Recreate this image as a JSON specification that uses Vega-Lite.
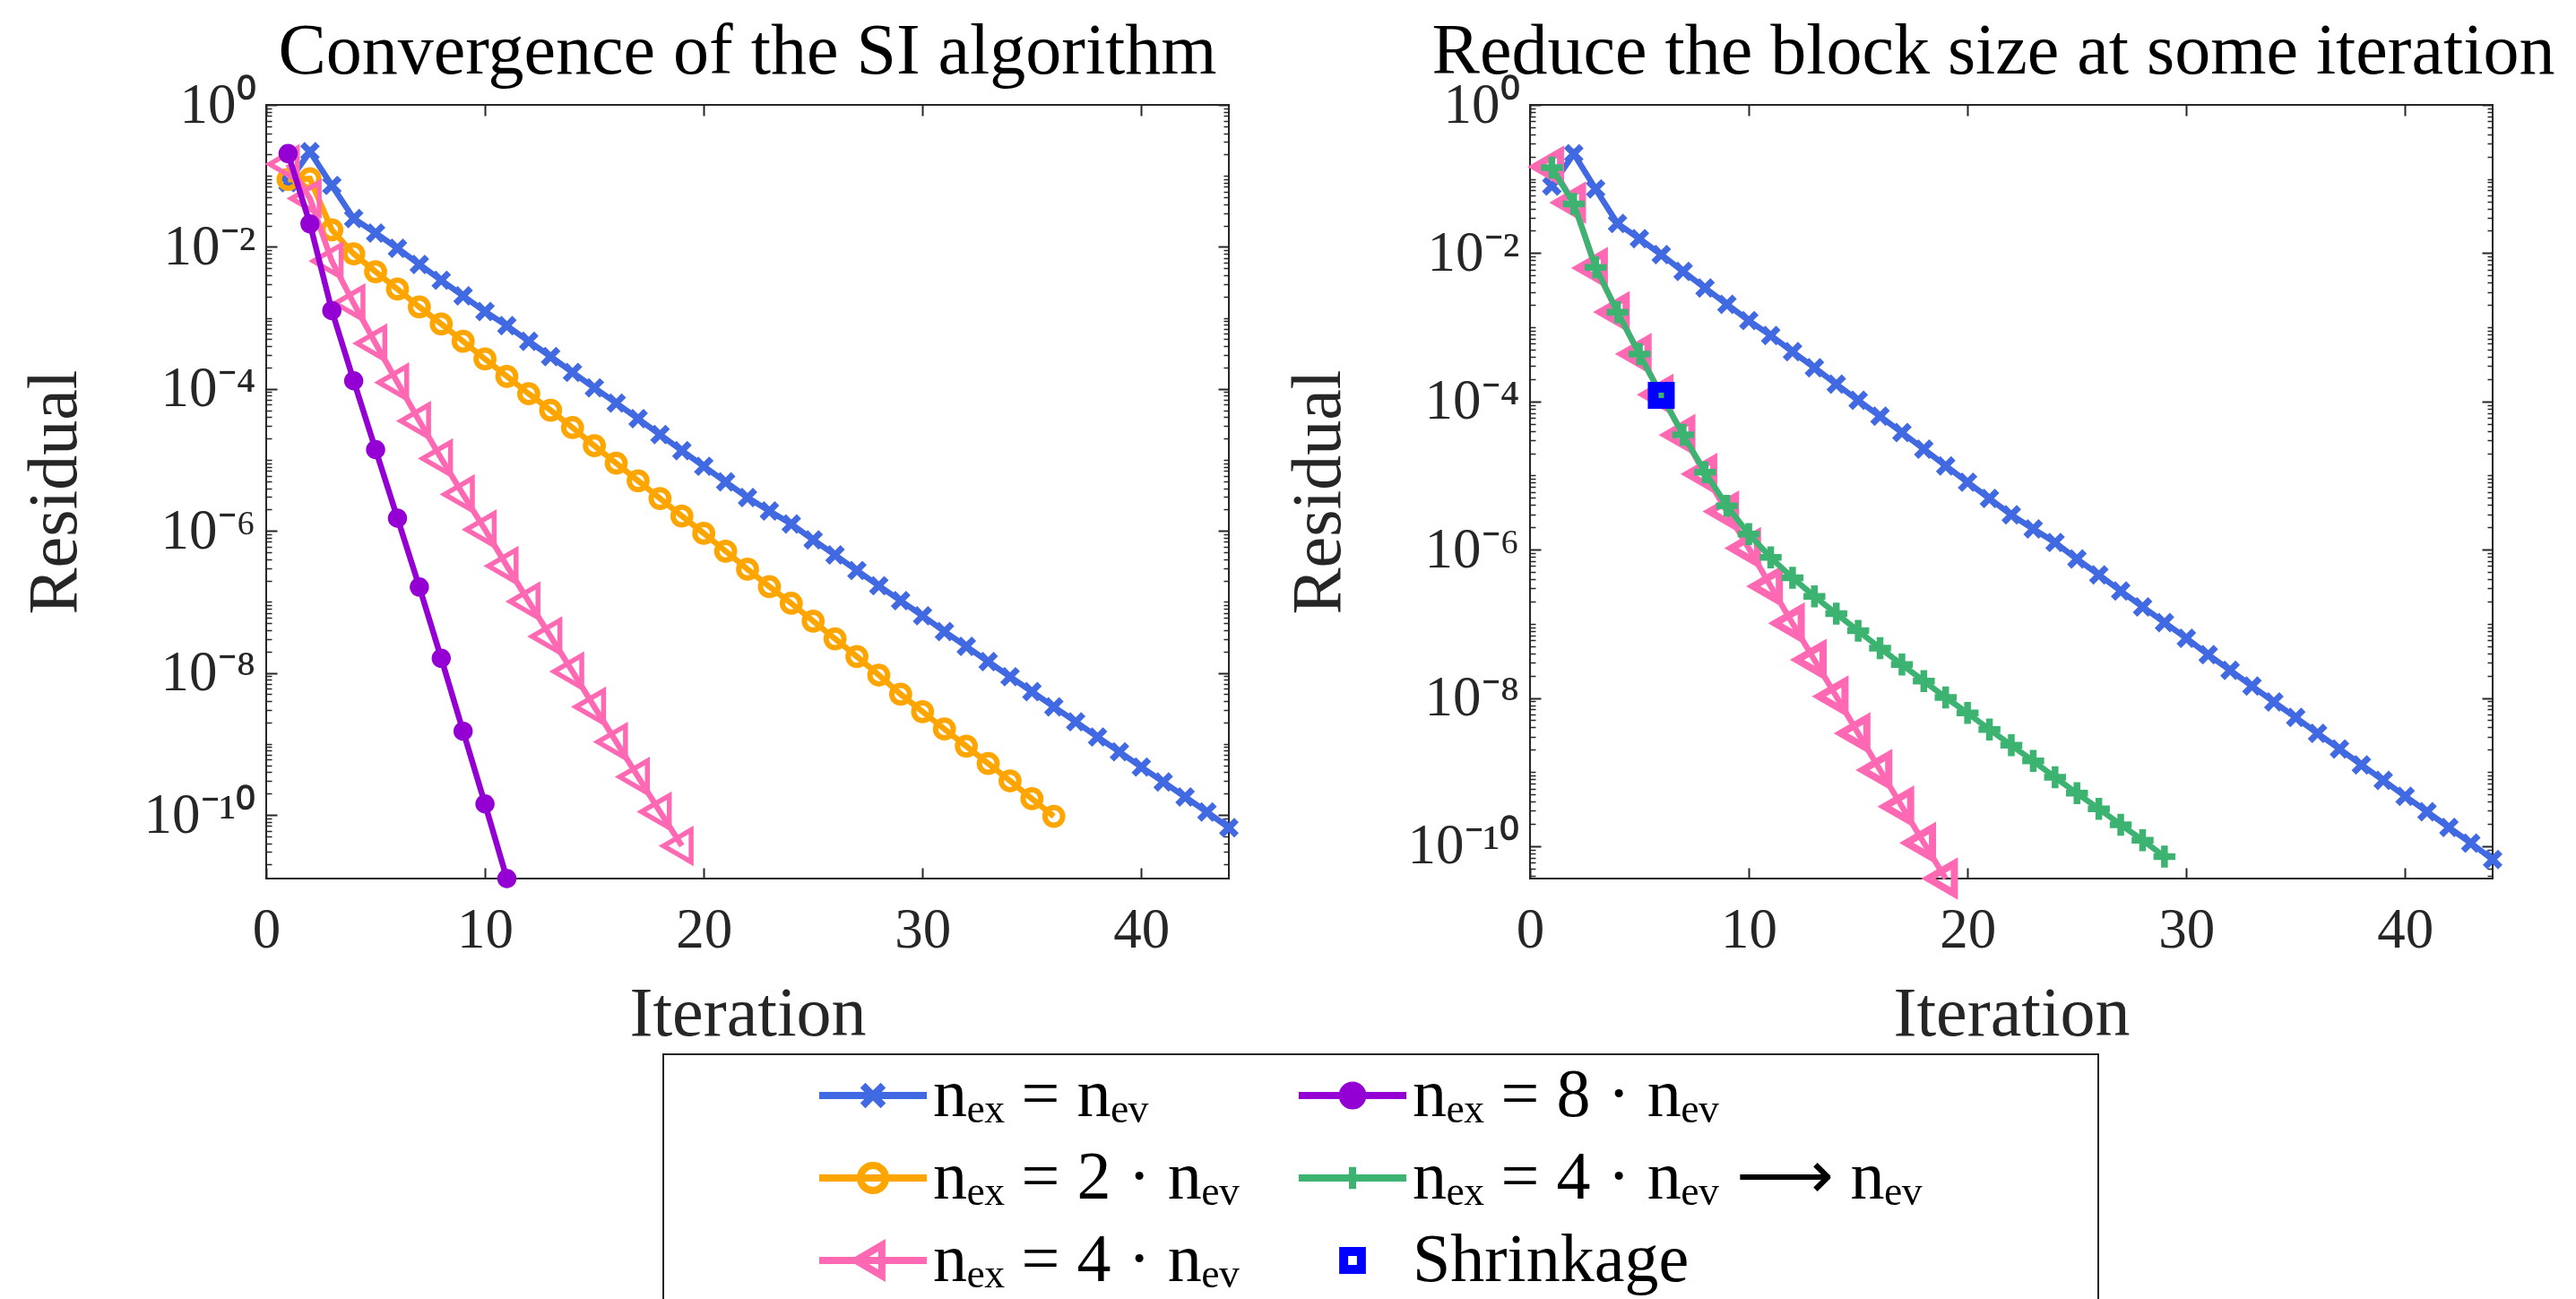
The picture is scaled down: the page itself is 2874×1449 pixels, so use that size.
{
"$schema":"https://vega.github.io/schema/vega-lite/v6.json",
"padding":{"left":21,"top":17,"right":5,"bottom":5},
"background":"#ffffff",
"datasets":{"res":[
{"s":"s1","i":1,"r":0.0804},{"s":"s1","i":2,"r":0.2188},{"s":"s1","i":3,"r":0.0733},{"s":"s1","i":4,"r":0.0251},{"s":"s1","i":5,"r":0.01567},{"s":"s1","i":6,"r":0.00955},{"s":"s1","i":7,"r":0.00566},{"s":"s1","i":8,"r":0.00339},{"s":"s1","i":9,"r":0.00204},{"s":"s1","i":10,"r":0.00123},{"s":"s1","i":11,"r":7.76e-4},{"s":"s1","i":12,"r":4.68e-4},{"s":"s1","i":13,"r":2.85e-4},{"s":"s1","i":14,"r":1.71e-4},{"s":"s1","i":15,"r":1.035e-4},{"s":"s1","i":16,"r":6.31e-5},{"s":"s1","i":17,"r":3.80e-5},{"s":"s1","i":18,"r":2.27e-5},{"s":"s1","i":19,"r":1.35e-5},{"s":"s1","i":20,"r":8.13e-6},{"s":"s1","i":21,"r":4.90e-6},{"s":"s1","i":22,"r":2.95e-6},{"s":"s1","i":23,"r":1.905e-6},{"s":"s1","i":24,"r":1.25e-6},{"s":"s1","i":25,"r":7.48e-7},{"s":"s1","i":26,"r":4.58e-7},{"s":"s1","i":27,"r":2.77e-7},{"s":"s1","i":28,"r":1.69e-7},{"s":"s1","i":29,"r":1.04e-7},{"s":"s1","i":30,"r":6.38e-8},{"s":"s1","i":31,"r":3.83e-8},{"s":"s1","i":32,"r":2.36e-8},{"s":"s1","i":33,"r":1.445e-8},{"s":"s1","i":34,"r":8.83e-9},{"s":"s1","i":35,"r":5.45e-9},{"s":"s1","i":36,"r":3.33e-9},{"s":"s1","i":37,"r":2.05e-9},{"s":"s1","i":38,"r":1.25e-9},{"s":"s1","i":39,"r":7.74e-10},{"s":"s1","i":40,"r":4.72e-10},{"s":"s1","i":41,"r":2.92e-10},{"s":"s1","i":42,"r":1.79e-10},{"s":"s1","i":43,"r":1.10e-10},{"s":"s1","i":44,"r":6.61e-11},
{"s":"s2","i":1,"r":0.0891},{"s":"s2","i":2,"r":0.0912},{"s":"s2","i":3,"r":0.01738},{"s":"s2","i":4,"r":0.0080},{"s":"s2","i":5,"r":0.004467},{"s":"s2","i":6,"r":0.002547},{"s":"s2","i":7,"r":0.001426},{"s":"s2","i":8,"r":8.20e-4},{"s":"s2","i":9,"r":4.68e-4},{"s":"s2","i":10,"r":2.64e-4},{"s":"s2","i":11,"r":1.503e-4},{"s":"s2","i":12,"r":8.55e-5},{"s":"s2","i":13,"r":5.01e-5},{"s":"s2","i":14,"r":2.85e-5},{"s":"s2","i":15,"r":1.585e-5},{"s":"s2","i":16,"r":8.97e-6},{"s":"s2","i":17,"r":5.07e-6},{"s":"s2","i":18,"r":2.86e-6},{"s":"s2","i":19,"r":1.62e-6},{"s":"s2","i":20,"r":9.25e-7},{"s":"s2","i":21,"r":5.18e-7},{"s":"s2","i":22,"r":2.89e-7},{"s":"s2","i":23,"r":1.64e-7},{"s":"s2","i":24,"r":9.55e-8},{"s":"s2","i":25,"r":5.37e-8},{"s":"s2","i":26,"r":3.02e-8},{"s":"s2","i":27,"r":1.70e-8},{"s":"s2","i":28,"r":9.33e-9},{"s":"s2","i":29,"r":5.01e-9},{"s":"s2","i":30,"r":2.85e-9},{"s":"s2","i":31,"r":1.62e-9},{"s":"s2","i":32,"r":9.29e-10},{"s":"s2","i":33,"r":5.30e-10},{"s":"s2","i":34,"r":3.02e-10},{"s":"s2","i":35,"r":1.69e-10},{"s":"s2","i":36,"r":9.55e-11},
{"s":"s4","i":1,"r":0.1466},{"s":"s4","i":2,"r":0.0481},{"s":"s4","i":3,"r":0.00631},{"s":"s4","i":4,"r":0.001603},{"s":"s4","i":5,"r":4.365e-4},{"s":"s4","i":6,"r":1.23e-4},{"s":"s4","i":7,"r":3.53e-5},{"s":"s4","i":8,"r":1.047e-5},{"s":"s4","i":9,"r":3.27e-6},{"s":"s4","i":10,"r":1.047e-6},{"s":"s4","i":11,"r":3.21e-7},{"s":"s4","i":12,"r":1.014e-7},{"s":"s4","i":13,"r":3.26e-8},{"s":"s4","i":14,"r":1.047e-8},{"s":"s4","i":15,"r":3.33e-9},{"s":"s4","i":16,"r":1.067e-9},{"s":"s4","i":17,"r":3.43e-10},{"s":"s4","i":18,"r":1.109e-10},{"s":"s4","i":19,"r":3.66e-11},
{"s":"s8","i":1,"r":0.206},{"s":"s8","i":2,"r":0.02113},{"s":"s8","i":3,"r":1.268e-3},{"s":"s8","i":4,"r":1.30e-4},{"s":"s8","i":5,"r":1.396e-5},{"s":"s8","i":6,"r":1.51e-6},{"s":"s8","i":7,"r":1.62e-7},{"s":"s8","i":8,"r":1.607e-8},{"s":"s8","i":9,"r":1.51e-9},{"s":"s8","i":10,"r":1.429e-10},{"s":"s8","i":11,"r":1.27e-11},
{"s":"s4r","i":1,"r":0.1422},{"s":"s4r","i":2,"r":0.04624},{"s":"s4r","i":3,"r":0.00644},{"s":"s4r","i":4,"r":0.001596},{"s":"s4r","i":5,"r":4.355e-4},{"s":"s4r","i":6,"r":1.208e-4},{"s":"s4r","i":7,"r":3.55e-5},{"s":"s4r","i":8,"r":1.109e-5},{"s":"s4r","i":9,"r":3.89e-6},{"s":"s4r","i":10,"r":1.622e-6},{"s":"s4r","i":11,"r":7.85e-7},{"s":"s4r","i":12,"r":4.17e-7},{"s":"s4r","i":13,"r":2.34e-7},{"s":"s4r","i":14,"r":1.368e-7},{"s":"s4r","i":15,"r":8.05e-8},{"s":"s4r","i":16,"r":4.70e-8},{"s":"s4r","i":17,"r":2.82e-8},{"s":"s4r","i":18,"r":1.69e-8},{"s":"s4r","i":19,"r":1.014e-8},{"s":"s4r","i":20,"r":6.27e-9},{"s":"s4r","i":21,"r":3.75e-9},{"s":"s4r","i":22,"r":2.30e-9},{"s":"s4r","i":23,"r":1.413e-9},{"s":"s4r","i":24,"r":8.49e-10},{"s":"s4r","i":25,"r":5.18e-10},{"s":"s4r","i":26,"r":3.20e-10},{"s":"s4r","i":27,"r":1.95e-10},{"s":"s4r","i":28,"r":1.205e-10},{"s":"s4r","i":29,"r":7.24e-11},
{"s":"shr","i":6,"r":1.208e-4}
]},
"spacing":336,
"bounds":"flush",
"config":{
"view":{"stroke":"#262626","strokeWidth":2},
"axis":{"domain":false,"grid":false,"ticks":true,"tickColor":"#262626","tickWidth":2,"labelFont":"Liberation Serif","labelFontSize":63,"labelColor":"#262626","labelFlush":false,"labelOverlap":false,"titleFont":"Liberation Serif","titleFontSize":78,"titleFontWeight":"normal","titleColor":"#262626"},
"title":{"font":"Liberation Serif","fontSize":80,"fontWeight":"normal","color":"#000000"},
"legend":{"strokeWidth":2}
},
"hconcat":[
{
"width":1074,"height":863,
"title":{"text":"Convergence of the SI algorithm","offset":35,"dy":111,"baseline":"alphabetic"},
"data":{"name":"res"},
"encoding":{
"x":{"field":"i","type":"quantitative","scale":{"domain":[0,44],"nice":false,"zero":false},"axis":null},
"y":{"field":"r","type":"quantitative","scale":{"type":"log","domain":[1.27e-11,1],"nice":false},"axis":null}
},
"layer":[
{"transform":[{"filter":"datum.s === 's1'"}],"mark":{"type":"line","strokeWidth":6.5},
"encoding":{
"x":{"field":"i","type":"quantitative","scale":{"domain":[0,44],"nice":false,"zero":false},"axis":{"orient":"bottom","values":[0,10,20,30,40],"tickSize":-12,"labelPadding":38,"title":"Iteration","titlePadding":23}},
"y":{"field":"r","type":"quantitative","scale":{"type":"log","domain":[1.27e-11,1],"nice":false},"axis":{"orient":"left","values":[1,0.01,0.0001,0.000001,1e-8,1e-10],"tickSize":-12,"labelPadding":24,"labelExpr":"datum.value > 0.5 ? '10⁰' : datum.value > 0.005 ? '10⁻²' : datum.value > 0.00005 ? '10⁻⁴' : datum.value > 5e-7 ? '10⁻⁶' : datum.value > 5e-9 ? '10⁻⁸' : '10⁻¹⁰'","title":"Residual","titlePadding":60}},
"color":{"field":"s","type":"nominal","scale":{"domain":["s1","s2","s4","s8","s4r","shr"],"range":["#4169E1","#FFA500","#FF69B4","#9400D3","#3CB371","#0000FF"]},
"legend":{"orient":"none","legendX":443,"legendY":1059,"columns":2,"columnPadding":49,"rowPadding":16,
"title":" ","titleOrient":"left","titlePadding":168,"titleFontSize":10,
"padding":8,"strokeColor":"#262626","fillColor":"#ffffff",
"symbolSize":5776,"symbolStrokeWidth":8,"symbolOffset":20,
"labelOffset":29,"labelFont":"Liberation Serif","labelFontSize":76,"labelColor":"#000000","labelLimit":3000,
"labelExpr":"datum.value === 's1' ? 'nₑₓ = nₑᵥ' : datum.value === 's8' ? 'nₑₓ = 8 · nₑᵥ' : datum.value === 's2' ? 'nₑₓ = 2 · nₑᵥ' : datum.value === 's4r' ? 'nₑₓ = 4 · nₑᵥ ⟶ nₑᵥ\u2003⠀⠀' : datum.value === 's4' ? 'nₑₓ = 4 · nₑᵥ' : 'Shrinkage'",
"encode":{"symbols":{"update":{
"shape":{"signal":"datum.value === 's1' ? 'M-1.58,0H1.58M-0.3,-0.3L0.3,0.3M-0.3,0.3L0.3,-0.3' : datum.value === 's8' ? 'M-1.58,0H1.58M0.3,0A0.3,0.3,0,1,1,-0.3,0A0.3,0.3,0,1,1,0.3,0Z' : datum.value === 's2' ? 'M-1.58,0H1.58M0.37,0A0.37,0.37,0,1,1,-0.37,0A0.37,0.37,0,1,1,0.37,0Z' : datum.value === 's4r' ? 'M-1.58,0H1.58M0,-0.32V0.32' : datum.value === 's4' ? 'M-1.58,0H1.58M-0.5,0L0.26,-0.45L0.26,0.45Z' : 'M-0.26,-0.26H0.26V0.26H-0.26Z'"},
"stroke":{"signal":"scale('color', datum.value)"},
"fill":{"signal":"datum.value === 's8' ? '#9400D3' : 'transparent'"},
"strokeWidth":{"signal":"datum.value === 'shr' ? 10 : 8"},
"size":{"value":5776},
"opacity":{"value":1}
}}}
}}
}},
{"transform":[{"filter":"datum.s === 's1'"}],"mark":{"type":"point","shape":"M-1,-1L1,1M-1,1L1,-1","size":289,"filled":false,"color":"#4169E1","strokeWidth":7,"opacity":1},
"encoding":{
"x":{"field":"i","type":"quantitative","scale":{"domain":[0,44],"nice":false,"zero":false},"axis":{"orient":"top","values":[0,10,20,30,40],"tickSize":-12,"labels":false,"title":null}},
"y":{"field":"r","type":"quantitative","scale":{"type":"log","domain":[1.27e-11,1],"nice":false},"axis":{"orient":"right","values":[1,0.01,0.0001,0.000001,1e-8,1e-10],"tickSize":-12,"labels":false,"title":null}}
}},
{"transform":[{"filter":"datum.s === 's2'"}],"mark":{"type":"line","strokeWidth":6.5},
"encoding":{
"y":{"field":"r","type":"quantitative","scale":{"type":"log","domain":[1.27e-11,1],"nice":false},"axis":{"orient":"left","values":[0.9,0.8,0.7,0.6,0.5,0.4,0.3,0.2,0.1,0.09,0.08,0.07,0.06,0.05,0.04,0.03,0.02,0.009,0.008,0.007,0.006,0.005,0.004,0.003,0.002,0.001,0.0009,0.0008,0.0007,0.0006,0.0005,0.0004,0.0003,0.0002,9e-5,8e-5,7e-5,6e-5,5e-5,4e-5,3e-5,2e-5,1e-5,9e-6,8e-6,7e-6,6e-6,5e-6,4e-6,3e-6,2e-6,9e-7,8e-7,7e-7,6e-7,5e-7,4e-7,3e-7,2e-7,1e-7,9e-8,8e-8,7e-8,6e-8,5e-8,4e-8,3e-8,2e-8,9e-9,8e-9,7e-9,6e-9,5e-9,4e-9,3e-9,2e-9,1e-9,9e-10,8e-10,7e-10,6e-10,5e-10,4e-10,3e-10,2e-10,9e-11,8e-11,7e-11,6e-11,5e-11,4e-11,3e-11,2e-11],"tickSize":-6,"tickWidth":1.5,"labels":false,"title":null}},
"color":{"field":"s","type":"nominal","scale":{"domain":["s1","s2","s4","s8","s4r","shr"],"range":["#4169E1","#FFA500","#FF69B4","#9400D3","#3CB371","#0000FF"]}}
}},
{"transform":[{"filter":"datum.s === 's2'"}],"mark":{"type":"point","shape":"circle","size":390,"filled":false,"color":"#FFA500","strokeWidth":6,"opacity":1},
"encoding":{
"y":{"field":"r","type":"quantitative","scale":{"type":"log","domain":[1.27e-11,1],"nice":false},"axis":{"orient":"right","values":[0.9,0.8,0.7,0.6,0.5,0.4,0.3,0.2,0.1,0.09,0.08,0.07,0.06,0.05,0.04,0.03,0.02,0.009,0.008,0.007,0.006,0.005,0.004,0.003,0.002,0.001,0.0009,0.0008,0.0007,0.0006,0.0005,0.0004,0.0003,0.0002,9e-5,8e-5,7e-5,6e-5,5e-5,4e-5,3e-5,2e-5,1e-5,9e-6,8e-6,7e-6,6e-6,5e-6,4e-6,3e-6,2e-6,9e-7,8e-7,7e-7,6e-7,5e-7,4e-7,3e-7,2e-7,1e-7,9e-8,8e-8,7e-8,6e-8,5e-8,4e-8,3e-8,2e-8,9e-9,8e-9,7e-9,6e-9,5e-9,4e-9,3e-9,2e-9,1e-9,9e-10,8e-10,7e-10,6e-10,5e-10,4e-10,3e-10,2e-10,9e-11,8e-11,7e-11,6e-11,5e-11,4e-11,3e-11,2e-11],"tickSize":-6,"tickWidth":1.5,"labels":false,"title":null}}
}},
{"transform":[{"filter":"datum.s === 's4'"}],"mark":{"type":"line","strokeWidth":6.5},
"encoding":{"color":{"field":"s","type":"nominal","scale":{"domain":["s1","s2","s4","s8","s4r","shr"],"range":["#4169E1","#FFA500","#FF69B4","#9400D3","#3CB371","#0000FF"]}}}},
{"transform":[{"filter":"datum.s === 's4'"}],"mark":{"type":"point","shape":"M-1,0L0.5,-0.866L0.5,0.866Z","size":1700,"filled":false,"color":"#FF69B4","strokeWidth":5.5,"opacity":1}},
{"transform":[{"filter":"datum.s === 's8'"}],"mark":{"type":"line","strokeWidth":6.5},
"encoding":{"color":{"field":"s","type":"nominal","scale":{"domain":["s1","s2","s4","s8","s4r","shr"],"range":["#4169E1","#FFA500","#FF69B4","#9400D3","#3CB371","#0000FF"]}}}},
{"transform":[{"filter":"datum.s === 's8'"}],"mark":{"type":"point","shape":"circle","size":460,"filled":true,"color":"#9400D3","opacity":1}}
],
"resolve":{"axis":{"x":"independent","y":"independent"}}
},
{
"width":1074,"height":863,
"title":{"text":"Reduce the block size at some iteration","offset":35,"dy":111,"baseline":"alphabetic","dx":-20},
"data":{"name":"res"},
"encoding":{
"x":{"field":"i","type":"quantitative","scale":{"domain":[0,44],"nice":false,"zero":false},"axis":null},
"y":{"field":"r","type":"quantitative","scale":{"type":"log","domain":[3.66e-11,1],"nice":false},"axis":null}
},
"layer":[
{"transform":[{"filter":"datum.s === 's1'"}],"mark":{"type":"line","strokeWidth":6.5},
"encoding":{
"x":{"field":"i","type":"quantitative","scale":{"domain":[0,44],"nice":false,"zero":false},"axis":{"orient":"bottom","values":[0,10,20,30,40],"tickSize":-12,"labelPadding":38,"title":"Iteration","titlePadding":23}},
"y":{"field":"r","type":"quantitative","scale":{"type":"log","domain":[3.66e-11,1],"nice":false},"axis":{"orient":"left","values":[1,0.01,0.0001,0.000001,1e-8,1e-10],"tickSize":-12,"labelPadding":24,"labelExpr":"datum.value > 0.5 ? '10⁰' : datum.value > 0.005 ? '10⁻²' : datum.value > 0.00005 ? '10⁻⁴' : datum.value > 5e-7 ? '10⁻⁶' : datum.value > 5e-9 ? '10⁻⁸' : '10⁻¹⁰'","title":"Residual","titlePadding":60}},
"color":{"field":"s","type":"nominal","scale":{"domain":["s1","s2","s4","s8","s4r","shr"],"range":["#4169E1","#FFA500","#FF69B4","#9400D3","#3CB371","#0000FF"]}}
}},
{"transform":[{"filter":"datum.s === 's1'"}],"mark":{"type":"point","shape":"M-1,-1L1,1M-1,1L1,-1","size":289,"filled":false,"color":"#4169E1","strokeWidth":7,"opacity":1},
"encoding":{
"x":{"field":"i","type":"quantitative","scale":{"domain":[0,44],"nice":false,"zero":false},"axis":{"orient":"top","values":[0,10,20,30,40],"tickSize":-12,"labels":false,"title":null}},
"y":{"field":"r","type":"quantitative","scale":{"type":"log","domain":[3.66e-11,1],"nice":false},"axis":{"orient":"right","values":[1,0.01,0.0001,0.000001,1e-8,1e-10],"tickSize":-12,"labels":false,"title":null}}
}},
{"transform":[{"filter":"datum.s === 's4'"}],"mark":{"type":"line","strokeWidth":6.5},
"encoding":{
"y":{"field":"r","type":"quantitative","scale":{"type":"log","domain":[3.66e-11,1],"nice":false},"axis":{"orient":"left","values":[0.9,0.8,0.7,0.6,0.5,0.4,0.3,0.2,0.1,0.09,0.08,0.07,0.06,0.05,0.04,0.03,0.02,0.009,0.008,0.007,0.006,0.005,0.004,0.003,0.002,0.001,0.0009,0.0008,0.0007,0.0006,0.0005,0.0004,0.0003,0.0002,9e-5,8e-5,7e-5,6e-5,5e-5,4e-5,3e-5,2e-5,1e-5,9e-6,8e-6,7e-6,6e-6,5e-6,4e-6,3e-6,2e-6,9e-7,8e-7,7e-7,6e-7,5e-7,4e-7,3e-7,2e-7,1e-7,9e-8,8e-8,7e-8,6e-8,5e-8,4e-8,3e-8,2e-8,9e-9,8e-9,7e-9,6e-9,5e-9,4e-9,3e-9,2e-9,1e-9,9e-10,8e-10,7e-10,6e-10,5e-10,4e-10,3e-10,2e-10,9e-11,8e-11,7e-11,6e-11,5e-11,4e-11],"tickSize":-6,"tickWidth":1.5,"labels":false,"title":null}},
"color":{"field":"s","type":"nominal","scale":{"domain":["s1","s2","s4","s8","s4r","shr"],"range":["#4169E1","#FFA500","#FF69B4","#9400D3","#3CB371","#0000FF"]}}
}},
{"transform":[{"filter":"datum.s === 's4'"}],"mark":{"type":"point","shape":"M-1,0L0.5,-0.866L0.5,0.866Z","size":1500,"filled":false,"color":"#FF69B4","strokeWidth":8,"opacity":1},
"encoding":{
"y":{"field":"r","type":"quantitative","scale":{"type":"log","domain":[3.66e-11,1],"nice":false},"axis":{"orient":"right","values":[0.9,0.8,0.7,0.6,0.5,0.4,0.3,0.2,0.1,0.09,0.08,0.07,0.06,0.05,0.04,0.03,0.02,0.009,0.008,0.007,0.006,0.005,0.004,0.003,0.002,0.001,0.0009,0.0008,0.0007,0.0006,0.0005,0.0004,0.0003,0.0002,9e-5,8e-5,7e-5,6e-5,5e-5,4e-5,3e-5,2e-5,1e-5,9e-6,8e-6,7e-6,6e-6,5e-6,4e-6,3e-6,2e-6,9e-7,8e-7,7e-7,6e-7,5e-7,4e-7,3e-7,2e-7,1e-7,9e-8,8e-8,7e-8,6e-8,5e-8,4e-8,3e-8,2e-8,9e-9,8e-9,7e-9,6e-9,5e-9,4e-9,3e-9,2e-9,1e-9,9e-10,8e-10,7e-10,6e-10,5e-10,4e-10,3e-10,2e-10,9e-11,8e-11,7e-11,6e-11,5e-11,4e-11],"tickSize":-6,"tickWidth":1.5,"labels":false,"title":null}}
}},
{"transform":[{"filter":"datum.s === 's4r'"}],"mark":{"type":"line","strokeWidth":6.5},
"encoding":{"color":{"field":"s","type":"nominal","scale":{"domain":["s1","s2","s4","s8","s4r","shr"],"range":["#4169E1","#FFA500","#FF69B4","#9400D3","#3CB371","#0000FF"]}}}},
{"transform":[{"filter":"datum.s === 's4r'"}],"mark":{"type":"point","shape":"M-1,0H1M0,-1V1","size":600,"filled":false,"color":"#3CB371","strokeWidth":7.5,"opacity":1}},
{"transform":[{"filter":"datum.s === 'shr'"}],"mark":{"type":"point","shape":"M-1,-1H1V1H-1Z","size":324,"filled":false,"color":"#0000FF","strokeWidth":12,"opacity":1}}
],
"resolve":{"axis":{"x":"independent","y":"independent"}}
}
]
}
